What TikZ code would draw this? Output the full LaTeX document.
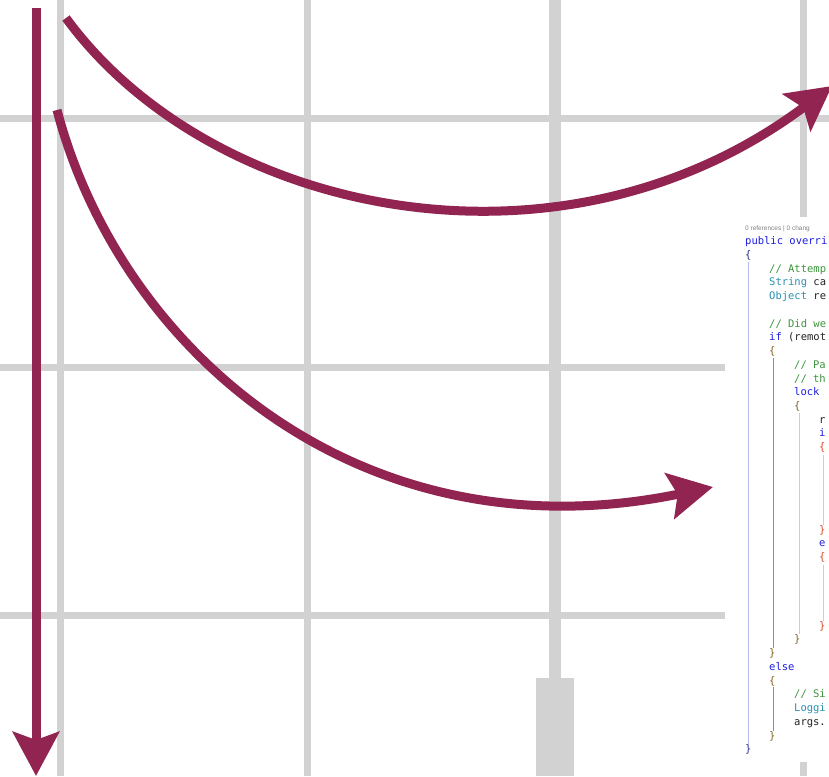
\documentclass[tikz,border=0pt]{standalone}
\usepackage{fontspec}
\setmonofont{DejaVu Sans Mono}
\setsansfont{Liberation Sans}
\usetikzlibrary{arrows.meta}

\definecolor{arrowred}{RGB}{145,36,80}
\definecolor{gridgray}{RGB}{210,210,210}
\definecolor{kwblue}{RGB}{30,30,225}
\definecolor{cmtgreen}{RGB}{60,150,60}
\definecolor{typeteal}{RGB}{43,145,175}
\definecolor{codetext}{RGB}{35,35,35}
\definecolor{guideblue}{RGB}{185,185,240}
\definecolor{guidegreen}{RGB}{85,175,125}
\definecolor{guidegray}{RGB}{205,205,205}
\definecolor{bracebrown}{RGB}{130,100,35}
\definecolor{bracered}{RGB}{215,75,40}
\definecolor{braceblue}{RGB}{50,50,140}

\begin{document}
\begin{tikzpicture}[x=1pt,y=-1pt,
    grid/.style={gridgray,line width=7pt},
    arr/.style={arrowred,line width=9pt,-{Stealth[length=44pt,width=46pt,inset=8pt]}},
    code/.style={anchor=west,inner sep=0pt,text height=7.5pt,text depth=2pt,
      font=\ttfamily\fontsize{10.5}{12}\selectfont,text=codetext},
    guide/.style={line width=0.8pt}]
    \useasboundingbox (0,0) rectangle (829,776);
    \clip (0,0) rectangle (829,776);

    % background grid
    \draw[grid] (60,0) -- (60,776);
    \draw[grid] (307,0) -- (307,776);
    \draw[grid,line width=12pt] (555,0) -- (555,680);
    \fill[gridgray] (536,678) rectangle (574,776);
    \draw[grid] (803,0) -- (803,776);
    \draw[grid] (0,118) -- (829,118);
    \draw[grid] (0,367) -- (725,367);
    \draw[grid] (0,615) -- (725,615);

    % code panel
    \fill[white] (733,217) rectangle (829,762);
    \draw[guide,guideblue] (748,262) -- (748,745);
    \draw[guide,guidegreen] (773,358) -- (773,648);
    \draw[guide,guidegreen] (773,687) -- (773,731);
    \draw[guide,guidegray] (799,413) -- (799,634);
    \draw[guide,guidegray] (823,455) -- (823,525);
    \draw[guide,guidegray] (823,565) -- (823,621);

    \node[anchor=west,inner sep=0pt,text=gray,font=\sffamily\fontsize{6.5}{7}\selectfont] (hdr) at (745,229) {0 references | 0 chang};
    \node[code] (L0) at (745,242.0) {\textcolor{kwblue}{public overri}};
    \node[code] (L1) at (745,255.7) {\textcolor{braceblue}{\{}};
    \node[code] (L2) at (769,269.5) {\textcolor{cmtgreen}{// Attemp}};
    \node[code] (L3) at (769,283.2) {\textcolor{typeteal}{String} ca};
    \node[code] (L4) at (769,296.9) {\textcolor{typeteal}{Object} re};
    \node[code] (L6) at (769,324.4) {\textcolor{cmtgreen}{// Did we}};
    \node[code] (L7) at (769,338.1) {\textcolor{kwblue}{if} (remot};
    \node[code] (L8) at (769,351.8) {\textcolor{bracebrown}{\{}};
    \node[code] (L9) at (794,365.6) {\textcolor{cmtgreen}{// Pa}};
    \node[code] (L10) at (794,379.3) {\textcolor{cmtgreen}{// th}};
    \node[code] (L11) at (794,393.0) {\textcolor{kwblue}{lock}};
    \node[code] (L12) at (794,406.8) {\textcolor{bracebrown}{\{}};
    \node[code] (L13) at (819,420.5) {r};
    \node[code] (L14) at (819,434.2) {\textcolor{kwblue}{i}};
    \node[code] (L15) at (819,448.0) {\textcolor{bracered}{\{}};
    \node[code] (L21) at (819,530.3) {\textcolor{bracered}{\}}};
    \node[code] (L22) at (819,544.1) {\textcolor{kwblue}{e}};
    \node[code] (L23) at (819,557.8) {\textcolor{bracered}{\{}};
    \node[code] (L28) at (819,626.4) {\textcolor{bracered}{\}}};
    \node[code] (L29) at (794,640.2) {\textcolor{bracebrown}{\}}};
    \node[code] (L30) at (769,653.9) {\textcolor{bracebrown}{\}}};
    \node[code] (L31) at (769,667.6) {\textcolor{kwblue}{else}};
    \node[code] (L32) at (769,681.4) {\textcolor{bracebrown}{\{}};
    \node[code] (L33) at (794,695.1) {\textcolor{cmtgreen}{// Si}};
    \node[code] (L34) at (794,708.8) {\textcolor{typeteal}{Loggi}};
    \node[code] (L35) at (794,722.6) {args.};
    \node[code] (L36) at (769,736.3) {\textcolor{bracebrown}{\}}};
    \node[code] (L37) at (745,750.0) {\textcolor{braceblue}{\}}};

    % arrows
    \coordinate (v0) at (36,8);
    \coordinate (v1) at (36,776);
    \coordinate (a0) at (66,18);
    \coordinate (a1) at (832,86);
    \coordinate (b0) at (57,110);
    \coordinate (b1) at (713,487);
    \draw[arr] (v0) -- (v1);
    \draw[arr] (a0) .. controls (210,215) and (560,290) .. (a1);
    \draw[arr] (b0) .. controls (120,350) and (360,560) .. (b1);
\end{tikzpicture}
\end{document}
